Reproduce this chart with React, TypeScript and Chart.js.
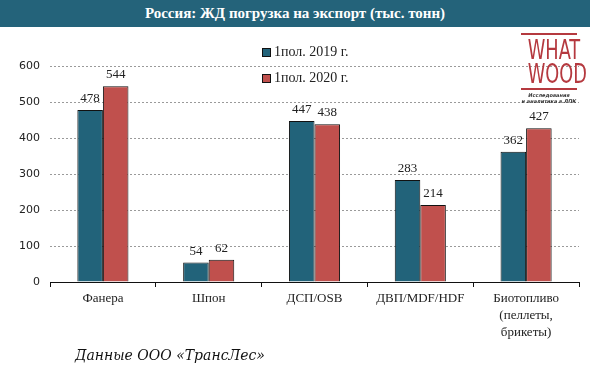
import React, { useEffect, useRef } from "react";
import { Chart, registerables } from "chart.js";

Chart.register(...registerables);

const categories: (string | string[])[] = [
  "Фанера",
  "Шпон",
  "ДСП/OSB",
  "ДВП/MDF/HDF",
  ["Биотопливо", "(пеллеты,", "брикеты)"],
];
const series2019 = [478, 54, 447, 283, 362];
const series2020 = [544, 62, 438, 214, 427];
const seriesNames = ["1пол. 2019 г.", "1пол. 2020 г."];
const seriesColors = ["#22637A", "#C0504D"];

const serif = "'Liberation Serif', 'DejaVu Serif', serif";

const valueLabels = {
  id: "valueLabels",
  afterDatasetsDraw(chart: any) {
    const ctx = chart.ctx;
    ctx.save();
    ctx.font = `13px ${serif}`;
    ctx.fillStyle = "#222";
    ctx.textAlign = "center";
    ctx.textBaseline = "alphabetic";
    chart.data.datasets.forEach((ds: any, i: number) => {
      const meta = chart.getDatasetMeta(i);
      meta.data.forEach((bar: any, j: number) => {
        ctx.fillText(String(ds.data[j]), bar.x, bar.y - 8);
      });
    });
    ctx.restore();
  },
};

export default function App() {
  const ref = useRef<HTMLCanvasElement | null>(null);
  useEffect(() => {
    if (!ref.current) return;
    const chart = new Chart(ref.current, {
      type: "bar",
      data: {
        labels: categories,
        datasets: [
          {
            label: seriesNames[0],
            data: series2019,
            backgroundColor: seriesColors[0],
            borderColor: "#111",
            borderWidth: 1,
            categoryPercentage: 0.483,
            barPercentage: 1,
          },
          {
            label: seriesNames[1],
            data: series2020,
            backgroundColor: seriesColors[1],
            borderColor: "#111",
            borderWidth: 1,
            categoryPercentage: 0.483,
            barPercentage: 1,
          },
        ],
      },
      options: {
        animation: false,
        responsive: false,
        maintainAspectRatio: false,
        layout: { padding: { top: 66, right: 11, left: 0, bottom: 0 } },
        plugins: {
          legend: { display: false },
          tooltip: { enabled: false },
        },
        scales: {
          x: {
            afterFit: (s: any) => {
              s.height = 96;
            },
            grid: {
              display: true,
              drawOnChartArea: false,
              drawTicks: true,
              tickLength: 5,
              color: "#111",
              offset: true,
            },
            border: { display: true, color: "#111", width: 1, z: 1 },
            ticks: {
              color: "#222",
              font: { family: serif, size: 13, lineHeight: 1.3 },
              padding: 3,
              maxRotation: 0,
              autoSkip: false,
            },
          },
          y: {
            min: 0,
            max: 600,
            afterFit: (s: any) => {
              s.width = 50;
            },
            grid: {
              display: true,
              drawOnChartArea: true,
              color: "#9a9a9a",
              drawTicks: false,
              lineWidth: 1,
            },
            border: { display: false, dash: [2, 2] },
            ticks: {
              stepSize: 100,
              color: "#222",
              font: { family: "'DejaVu Sans', Verdana, sans-serif", size: 11 },
              padding: 10,
            },
          },
        },
      },
      plugins: [valueLabels],
    });
    return () => chart.destroy();
  }, []);

  return (
    <div
      style={{
        position: "absolute",
        left: 0,
        top: 0,
        width: 590,
        height: 378,
        background: "#fff",
        overflow: "hidden",
      }}
    >
      <div
        style={{
          position: "absolute",
          left: 0,
          top: 0,
          width: 590,
          height: 27,
          background: "#24637A",
          color: "#fff",
          fontFamily: serif,
          fontWeight: "bold",
          fontSize: 15,
          lineHeight: "27px",
          textAlign: "center",
        }}
      >
        Россия: ЖД погрузка на экспорт (тыс. тонн)
      </div>
      <canvas
        ref={ref}
        width={590}
        height={378}
        style={{ position: "absolute", left: 0, top: 0, width: 590, height: 378 }}
      />
      {seriesNames.map((n, i) => (
        <div
          key={n}
          style={{
            position: "absolute",
            left: 262,
            top: 44 + i * 26,
            height: 16,
            display: "flex",
            alignItems: "center",
            fontFamily: serif,
            fontSize: 14,
            color: "#222",
            whiteSpace: "nowrap",
          }}
        >
          <span
            style={{
              display: "inline-block",
              width: 7,
              height: 7,
              background: seriesColors[i],
              border: "1px solid #111",
              marginRight: 3,
            }}
          />
          {n}
        </div>
      ))}
      <div
        style={{
          position: "absolute",
          left: 521,
          top: 33,
          width: 56,
          textAlign: "center",
          color: "#B5393F",
        }}
      >
        <div style={{ height: 2, background: "#B5393F" }} />
        <div
          style={{
            fontFamily: "'Liberation Sans Narrow', 'DejaVu Sans Condensed', sans-serif",
            fontSize: 26,
            lineHeight: "24px",
            marginTop: 3,
            transform: "scaleX(0.76)",
            transformOrigin: "center",
            whiteSpace: "nowrap",
          }}
        >
          WHAT
          <br />
          WOOD
        </div>
        <div style={{ height: 2, background: "#B5393F", marginTop: 2 }} />
        <div
          style={{
            fontFamily: "'DejaVu Sans', sans-serif",
            fontSize: 5,
            lineHeight: "6px",
            color: "#333",
            fontWeight: "bold",
            fontStyle: "italic",
            marginTop: 2,
            whiteSpace: "nowrap",
          }}
        >
          Исследования
          <br />и аналитика в ЛПК
        </div>
      </div>
      <div
        style={{
          position: "absolute",
          left: 75,
          top: 347,
          fontFamily: "'DejaVu Serif', serif",
          fontStyle: "italic",
          fontSize: 14,
          color: "#111",
          whiteSpace: "nowrap",
        }}
      >
        Данные ООО «ТрансЛес»
      </div>
    </div>
  );
}
